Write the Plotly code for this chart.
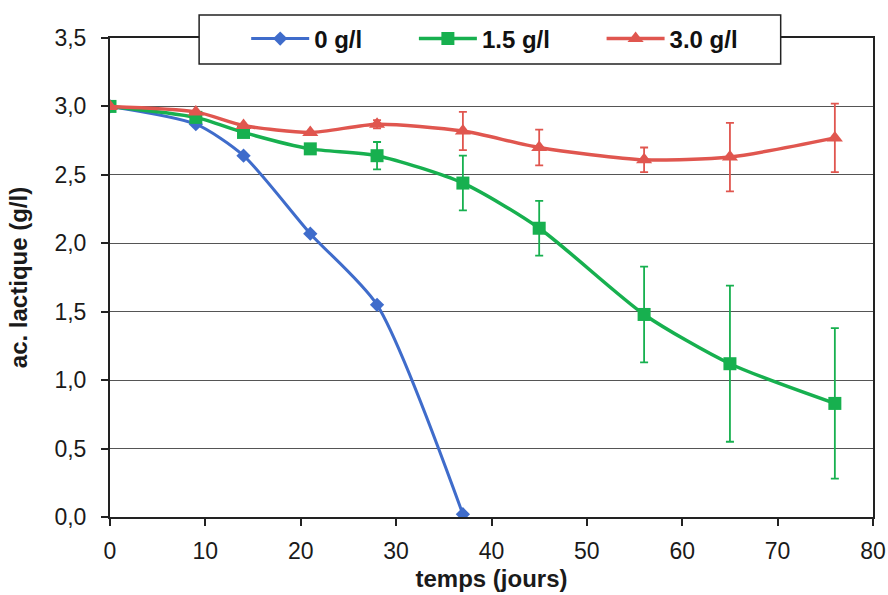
import plotly.graph_objects as go

x0 = [0, 9, 14, 21, 28, 37]
y0 = [3.0, 2.87, 2.64, 2.07, 1.55, 0.02]

x15 = [0, 9, 14, 21, 28, 37, 45, 56, 65, 76]
y15 = [3.0, 2.92, 2.81, 2.69, 2.64, 2.44, 2.11, 1.48, 1.12, 0.83]
e15 = [0.0, 0.0, 0.0, 0.0, 0.1, 0.2, 0.2, 0.35, 0.57, 0.55]

x30 = [0, 9, 14, 21, 28, 37, 45, 56, 65, 76]
y30 = [3.0, 2.96, 2.86, 2.81, 2.87, 2.82, 2.70, 2.61, 2.63, 2.77]
e30 = [0.0, 0.0, 0.0, 0.0, 0.03, 0.14, 0.13, 0.09, 0.25, 0.25]

names = ["0 g/l", "1.5 g/l", "3.0 g/l"]

blue = "#3F6CCB"
green = "#17B04F"
red = "#E0564F"
FONT = "Liberation Sans, Arial, sans-serif"
PAD = "\u00a0" * 7

fig = go.Figure()
fig.add_trace(go.Scatter(x=x0, y=y0, name=names[0] + PAD, mode="lines+markers",
                         line=dict(color=blue, width=3, shape="spline", smoothing=0.7),
                         marker=dict(symbol="diamond", size=11, color=blue)))
fig.add_trace(go.Scatter(x=x15, y=y15, name=names[1] + PAD, mode="lines+markers",
                         line=dict(color=green, width=3.5, shape="spline", smoothing=0.7),
                         marker=dict(symbol="square", size=13, color=green),
                         error_y=dict(type="data", array=e15, color=green, thickness=1.8, width=4)))
fig.add_trace(go.Scatter(x=x30, y=y30, name=names[2], mode="lines+markers",
                         line=dict(color=red, width=3.5, shape="spline", smoothing=0.7),
                         marker=dict(symbol="triangle-up", size=14, color=red),
                         error_y=dict(type="data", array=e30, color=red, thickness=1.8, width=4)))

# legend frame
fig.add_shape(type="rect", xref="paper", yref="paper",
              x0=0.1168, x1=0.879, y0=0.9457, y1=1.048,
              fillcolor="white", line=dict(color="#222", width=1.5), layer="above")

fig.update_layout(
    width=888, height=595,
    margin=dict(l=110, r=15, t=38, b=78, autoexpand=False),
    paper_bgcolor="white", plot_bgcolor="white",
    font=dict(family=FONT, size=23, color="#1a1a1a"),
    legend=dict(orientation="h", x=0.1785, xanchor="left", y=0.998, yanchor="middle",
                bgcolor="rgba(0,0,0,0)", borderwidth=0,
                font=dict(family=FONT, size=24, color="#111", weight="bold"),
                itemwidth=58),
    xaxis=dict(range=[0, 80], dtick=10, showgrid=False, zeroline=False, automargin=False,
               showline=True, linecolor="#222", linewidth=2, mirror=True,
               ticks="outside", ticklen=7, tickcolor="#222", tickwidth=1.5,
               tickfont=dict(size=23), ticklabelstandoff=5,
               title=dict(text="temps (jours)", font=dict(size=24, weight="bold"), standoff=8)),
    yaxis=dict(range=[0, 3.5], dtick=0.5, tickformat=".1f", automargin=False,
               showgrid=True, gridcolor="#555", gridwidth=1, zeroline=False,
               showline=True, linecolor="#222", linewidth=2, mirror=True,
               ticks="outside", ticklen=7, tickcolor="#222", tickwidth=1.5,
               tickfont=dict(size=23), ticklabelstandoff=10,
               title=dict(text="ac. lactique (g/l)", font=dict(size=24, weight="bold"), standoff=20)),
    separators=", ",
)

fig.write_html("out.html")
